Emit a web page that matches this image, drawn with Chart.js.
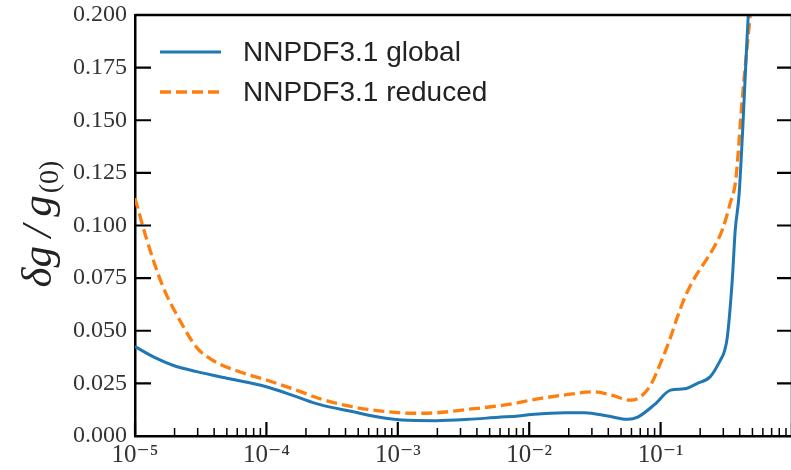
<!DOCTYPE html>
<html><head><meta charset="utf-8">
<script src="https://cdn.jsdelivr.net/npm/chart.js@4/dist/chart.umd.min.js"></script>
<style>html,body{margin:0;padding:0;overflow:hidden;background:#fff;width:791px;height:470px}canvas{display:block}</style>
</head><body><canvas id="c" width="794" height="470"></canvas>
<script>
const seriesNames = ['NNPDF3.1 global', 'NNPDF3.1 reduced'];
const globalX = [1e-5, 1.42e-5, 1.94e-5, 2.95e-5, 5.25e-5, 1e-4, 1.69e-4, 2.52e-4, 4.49e-4, 8.11e-4, 1.07e-3, 1.94e-3, 3.45e-3, 5.82e-3, 8.26e-3, 1.035e-2, 1.875e-2, 2.65e-2, 3.96e-2, 5.62e-2, 6.70e-2, 9.02e-2, 0.119, 0.152, 0.1905, 0.239, 0.285, 0.305, 0.322, 0.351, 0.370, 0.396, 0.465, 0.498];
const globalY = [0.0425, 0.0372, 0.0336, 0.0306, 0.0272, 0.0234, 0.0187, 0.0150, 0.0116, 0.0084, 0.0076, 0.0073, 0.0079, 0.0089, 0.0095, 0.0102, 0.0111, 0.0111, 0.0095, 0.0079, 0.0090, 0.0150, 0.0218, 0.0224, 0.0250, 0.0282, 0.0360, 0.0400, 0.0470, 0.0740, 0.0980, 0.1150, 0.2000, 0.2300];
const reducedX = [1e-5, 1.233e-5, 1.63e-5, 2.19e-5, 2.95e-5, 3.90e-5, 6.24e-5, 1e-4, 1.69e-4, 2.65e-4, 4.49e-4, 8.11e-4, 1.28e-3, 1.94e-3, 3.45e-3, 5.82e-3, 8.26e-3, 1.035e-2, 1.875e-2, 3.16e-2, 4.18e-2, 5.93e-2, 7.05e-2, 8.40e-2, 0.100, 0.117, 0.1345, 0.1545, 0.181, 0.215, 0.2565, 0.295, 0.339, 0.373, 0.418, 0.481, 0.515];
const reducedY = [0.113, 0.093, 0.071, 0.055, 0.042, 0.036, 0.0305, 0.0266, 0.0218, 0.0174, 0.0139, 0.0116, 0.0108, 0.0110, 0.0127, 0.0143, 0.0158, 0.0171, 0.0195, 0.0210, 0.0195, 0.0170, 0.0187, 0.0242, 0.0347, 0.0456, 0.0567, 0.0665, 0.0750, 0.0822, 0.0900, 0.0980, 0.1107, 0.1216, 0.1600, 0.2000, 0.2200];
const xTickLabels = {'-5': '10⁻⁵', '-4': '10⁻⁴', '-3': '10⁻³', '-2': '10⁻²', '-1': '10⁻¹'};
const yAxisTitle = 'δg\u2009/\u2009g';
const yAxisSub = '(0)';

const toPts = (xs, ys) => xs.map((x, i) => ({x, y: ys[i]}));
const serif = '"Liberation Serif", "DejaVu Serif", serif';

const chromePlugin = {
  id: 'chrome',
  afterDatasetsDraw(chart) {
    const {ctx, chartArea: a, scales: {x, y}} = chart;
    ctx.save();
    ctx.strokeStyle = '#000';
    ctx.lineCap = 'butt';
    for (const t of x.ticks) {
      const v = t.value;
      const e = Math.floor(Math.log10(v) + 1e-9);
      const m = v / Math.pow(10, e);
      if (Math.abs(m - Math.round(m)) > 1e-6) continue;
      const major = Math.round(m) === 1;
      const px = x.getPixelForValue(v);
      ctx.lineWidth = major ? 2.2 : 1.5;
      ctx.beginPath();
      ctx.moveTo(px, a.bottom);
      ctx.lineTo(px, a.bottom - (major ? 14 : 8));
      ctx.stroke();
    }
    for (const t of y.ticks) {
      const py = y.getPixelForValue(t.value);
      ctx.lineWidth = 2.2;
      ctx.beginPath();
      ctx.moveTo(a.left, py); ctx.lineTo(a.left + 16, py);
      ctx.moveTo(a.right, py); ctx.lineTo(a.right - 15, py);
      ctx.stroke();
    }
    ctx.lineWidth = 2.5;
    ctx.beginPath();
    ctx.moveTo(a.left, a.top); ctx.lineTo(a.right, a.top);
    ctx.moveTo(a.right, a.top); ctx.lineTo(a.right, a.bottom);
    ctx.stroke();

    chart.data.datasets.forEach((ds, i) => {
      const yy = a.top + 37 + i * 40;
      ctx.strokeStyle = ds.borderColor;
      ctx.lineWidth = ds.borderWidth;
      ctx.setLineDash(ds.borderDash || []);
      ctx.beginPath();
      ctx.moveTo(a.left + 25, yy); ctx.lineTo(a.left + 86, yy);
      ctx.stroke();
      ctx.setLineDash([]);
      ctx.fillStyle = '#222';
      ctx.font = '28px "Liberation Sans", Arial, sans-serif';
      ctx.textAlign = 'left';
      ctx.textBaseline = 'middle';
      ctx.fillText(ds.label, a.left + 108, yy + 1);
    });

    ctx.save();
    ctx.translate(51, 224);
    ctx.rotate(-Math.PI / 2);
    ctx.fillStyle = '#222';
    ctx.textBaseline = 'alphabetic';
    ctx.textAlign = 'left';
    const mainFont = 'italic 43px ' + serif;
    const subFont = '28px ' + serif;
    ctx.font = mainFont;
    const w1 = ctx.measureText(yAxisTitle).width;
    ctx.font = subFont;
    const w2 = ctx.measureText(yAxisSub).width;
    const start = -(w1 + w2 + 2) / 2;
    ctx.font = mainFont;
    ctx.fillText(yAxisTitle, start, 0);
    ctx.font = subFont;
    ctx.fillText(yAxisSub, start + w1 + 2, 7);
    ctx.restore();
    ctx.restore();
  }
};

new Chart(document.getElementById('c'), {
  type: 'line',
  data: {
    datasets: [
      {label: seriesNames[0], data: toPts(globalX, globalY), borderColor: '#1f77b4', borderWidth: 3, pointRadius: 0, fill: false, cubicInterpolationMode: 'monotone'},
      {label: seriesNames[1], data: toPts(reducedX, reducedY), borderColor: '#ff7f0e', borderWidth: 3.3, borderDash: [11, 5], pointRadius: 0, fill: false, cubicInterpolationMode: 'monotone'}
    ]
  },
  options: {
    responsive: false,
    animation: false,
    devicePixelRatio: 1,
    layout: {padding: {top: 15, right: 2, left: 0, bottom: 0}},
    plugins: {legend: {display: false}, tooltip: {enabled: false}},
    scales: {
      x: {
        type: 'logarithmic', min: 1e-5, max: 1,
        grid: {display: false, drawTicks: false},
        border: {display: true, color: '#000', width: 2.5},
        afterFit: (s) => { s.height = 34; s.paddingLeft = 0; s.paddingRight = 0; },
        ticks: {
          autoSkip: false, maxRotation: 0, padding: 4, color: '#333',
          font: {family: serif, size: 25},
          callback: (v) => {
            const e = Math.log10(v);
            if (Math.abs(e - Math.round(e)) < 1e-6) return xTickLabels[String(Math.round(e))] || '';
            return '';
          }
        }
      },
      y: {
        min: 0, max: 0.2,
        grid: {display: false, drawTicks: false},
        border: {display: true, color: '#000', width: 2.5},
        afterFit: (s) => { s.width = 135; s.paddingTop = 0; s.paddingBottom = 0; },
        ticks: {
          stepSize: 0.025, padding: 8, color: '#333',
          font: {family: serif, size: 24},
          callback: (v) => v.toFixed(3)
        }
      }
    }
  },
  plugins: [chromePlugin]
});
</script>
</body></html>
